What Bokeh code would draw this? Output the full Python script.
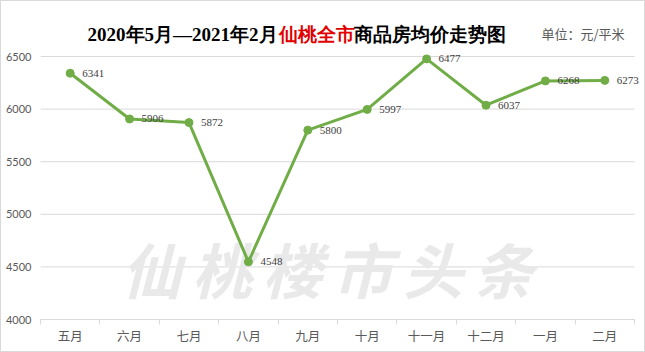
import numpy as np
from bokeh.plotting import figure
from bokeh.models import Range1d, FixedTicker, Label, LabelSet, ColumnDataSource
from bokeh.embed import file_html
from bokeh.resources import INLINE

months = ["五月", "六月", "七月", "八月", "九月", "十月", "十一月", "十二月", "一月", "二月"]
prices = [6341, 5906, 5872, 4548, 5800, 5997, 6477, 6037, 6268, 6273]
y_ticks = [4000, 4500, 5000, 5500, 6000, 6500]
title_parts = ["2020年5月—2021年2月", "仙桃全市", "商品房均价走势图"]
unit_text = "单位：元/平米"
watermark = "仙桃楼市头条"

n = len(months)
xs = np.arange(n) + 0.5
src = ColumnDataSource(dict(x=xs, y=prices, t=[str(v) for v in prices]))

W, H = 645, 352
FL, FB = 39, 318          # frame left / frame bottom (canvas px)
px_per_cat = 59.4
px_per_unit = 263 / 2500.0

def sx(X):
    return X - FL

def sy(Y):
    return FB - Y

x_end = (W - FL) / px_per_cat
y_end = y_ticks[0] + FB / px_per_unit

p = figure(width=W, height=H, output_backend="svg", toolbar_location=None,
           x_range=Range1d(0, x_end), y_range=Range1d(y_ticks[0], y_end),
           min_border_left=FL, min_border_right=0, min_border_top=0, min_border_bottom=H - FB,
           styles={"border": "1px solid #d9d9d9", "box-sizing": "border-box"})
p.outline_line_color = None
p.background_fill_color = "white"
p.border_fill_color = "white"

# axes
p.xaxis.ticker = FixedTicker(ticks=list(xs), minor_ticks=list(range(n + 1)))
p.xaxis.bounds = (0, n)
p.xaxis.major_label_overrides = {float(x): m for x, m in zip(xs, months)}
p.xaxis.major_tick_line_color = None
p.xaxis.major_tick_in = 0
p.xaxis.major_tick_out = 0
p.xaxis.minor_tick_in = 0
p.xaxis.minor_tick_out = 5
p.xaxis.minor_tick_line_color = "#d9d9d9"
p.xaxis.axis_line_color = "#d9d9d9"
p.xaxis.major_label_text_font = "Noto Sans CJK SC"
p.xaxis.major_label_text_font_size = "12.5px"
p.xaxis.major_label_text_color = "#595959"
p.xaxis.major_label_standoff = 1

p.yaxis.ticker = FixedTicker(ticks=y_ticks)
p.yaxis.axis_line_color = None
p.yaxis.major_tick_line_color = None
p.yaxis.major_tick_in = 0
p.yaxis.major_tick_out = 0
p.yaxis.minor_tick_line_color = None
p.yaxis.minor_tick_in = 0
p.yaxis.minor_tick_out = 0
p.yaxis.major_label_text_font = "Lato"
p.yaxis.major_label_text_font_size = "11px"
p.yaxis.major_label_text_color = "#595959"
p.yaxis.major_label_standoff = 9

p.xgrid.grid_line_color = None
p.ygrid.grid_line_color = None

# horizontal gridlines limited to the category span
p.segment(x0=[0] * len(y_ticks), x1=[n] * len(y_ticks), y0=y_ticks, y1=y_ticks,
          line_color="#d9d9d9", line_width=1, level="underlay")

# watermark (one character at a time, wide spacing)
wm_x0, wm_pitch = 150, 70.4
for i, ch in enumerate(watermark):
    p.add_layout(Label(x=sx(wm_x0 + i * wm_pitch), y=sy(266), x_units="screen", y_units="screen",
                       text=ch, text_align="center", text_baseline="middle",
                       text_font="Noto Sans CJK SC", text_font_size="60px",
                       text_font_style="bold italic", text_color="#e9e9e9", level="underlay"))

# series
p.line("x", "y", source=src, line_color="#70ad47", line_width=3)
p.scatter("x", "y", source=src, size=8, fill_color="#70ad47", line_color="#70ad47")
labels = LabelSet(x="x", y="y", text="t", source=src, x_offset=12, text_baseline="middle",
                  text_align="left", text_font_size="11px", text_color="#404040",
                  text_font="Lato")
p.add_layout(labels)

# title pieces
ty = sy(33)
p.add_layout(Label(x=sx(276), y=ty, x_units="screen", y_units="screen", text=title_parts[0],
                   text_align="right", text_baseline="middle", text_font="Liberation Serif",
                   text_font_size="19px", text_font_style="bold", text_color="#000000"))
p.add_layout(Label(x=sx(277), y=ty, x_units="screen", y_units="screen", text=title_parts[1],
                   text_align="left", text_baseline="middle", text_font="Liberation Serif",
                   text_font_size="18.5px", text_font_style="bold", text_color="#e00000"))
p.add_layout(Label(x=sx(352), y=ty, x_units="screen", y_units="screen", text=title_parts[2],
                   text_align="left", text_baseline="middle", text_font="Liberation Serif",
                   text_font_size="18.5px", text_font_style="bold", text_color="#000000"))
p.add_layout(Label(x=sx(623), y=sy(32), x_units="screen", y_units="screen", text=unit_text,
                   text_align="right", text_baseline="middle", text_font="Noto Sans CJK SC",
                   text_font_size="13px", text_color="#595959"))

open("out.html", "w").write(file_html(p, INLINE))
